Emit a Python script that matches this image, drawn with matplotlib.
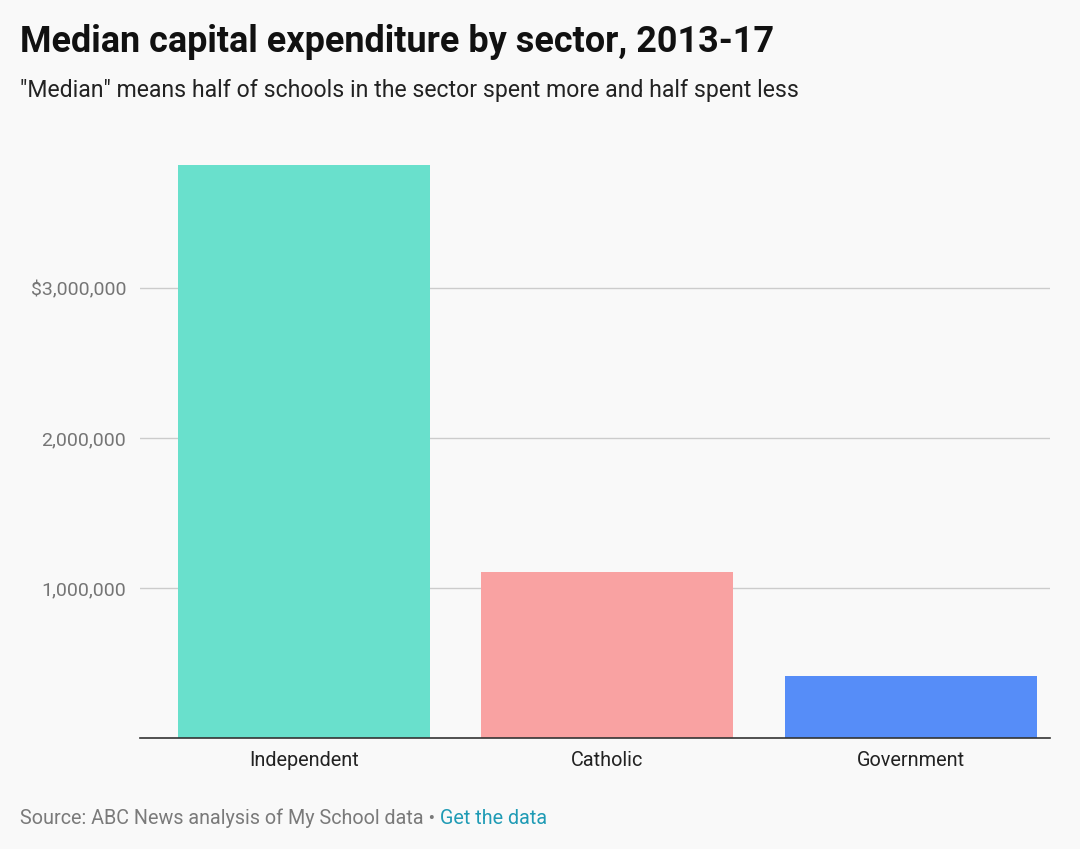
import matplotlib.pyplot as plt
from matplotlib.ticker import FixedLocator

# data
sectors = ["Independent", "Catholic", "Government"]
median_capex = [3820000, 1107000, 413000]
bar_colors = ["#69e0cc", "#f9a2a2", "#568df8"]
tick_vals = [1000000, 2000000, 3000000]
tick_labels = ["1,000,000", "2,000,000", "$3,000,000"]

plt.rcParams['font.family'] = ['Roboto', 'DejaVu Sans']
bg = "#f9f9f9"

fig = plt.figure(figsize=(10.8, 8.49), dpi=100, facecolor=bg)
ax = fig.add_axes([140/1080, 1-738/849, 910/1080, 588/849], facecolor=bg)

x = range(len(sectors))
ax.bar(x, median_capex, width=0.83, color=bar_colors, zorder=3)

ax.set_xlim(-0.54, 2.458)
ax.set_ylim(0, 3920000)
ax.yaxis.set_major_locator(FixedLocator(tick_vals))
ax.set_yticklabels(tick_labels)
ax.set_xticks(list(x))
ax.set_xticklabels(sectors)

ax.grid(axis='y', color='#cccccc', linewidth=1, zorder=0)
for s in ['top', 'right', 'left']:
    ax.spines[s].set_visible(False)
ax.spines['bottom'].set_color('#333333')
ax.spines['bottom'].set_linewidth(1.2)
ax.spines['bottom'].set_zorder(4)

ax.tick_params(axis='y', length=0, pad=10, labelsize=14, labelcolor='#757575')
ax.tick_params(axis='x', length=0, pad=9, labelsize=14.3, labelcolor='#222222')

fig.text(20/1080, 1-42/849, "Median capital expenditure by sector, 2013-17",
         fontsize=25.9, fontweight='bold', color='#111111', va='center')
fig.text(20/1080, 1-91/849,
         "\"Median\" means half of schools in the sector spent more and half spent less",
         fontsize=16.6, color='#222222', va='center')
t1 = fig.text(20/1080, 1-818/849, "Source: ABC News analysis of My School data \u2022 ",
              fontsize=14.2, color='#7a7a7a', va='center')
fig.canvas.draw()
bb = t1.get_window_extent()
fig.text(bb.x1/1080, 1-818/849, "Get the data", fontsize=14.2, color='#1f9bb5', va='center')

fig.savefig("out.png", dpi=100, facecolor=bg)
